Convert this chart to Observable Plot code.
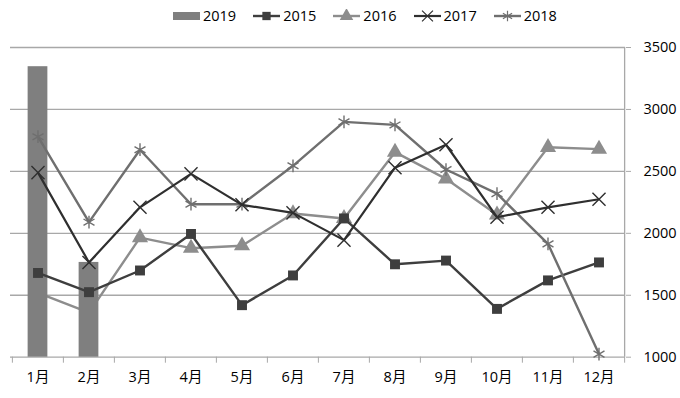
<!DOCTYPE html>
<html><head><meta charset="utf-8">
<script src="https://cdn.jsdelivr.net/npm/d3@7"></script>
<script src="https://cdn.jsdelivr.net/npm/@observablehq/plot@0.6"></script>
<style>
body{margin:0;background:#fff;font-family:"Open Sans","Noto Sans CJK SC",sans-serif;}
#legend{position:relative;height:32px;width:680px;}
#legend .items{position:absolute;left:173px;top:7px;display:flex;align-items:center;gap:17px;font-size:14.5px;line-height:18px;color:#000;}
#legend .item{display:flex;align-items:center;}
#legend .item span{margin-left:3px;}
</style></head><body>
<div id="legend"><div class="items"></div></div>
<div id="chart"></div>
<script>
const months = ["1月","2月","3月","4月","5月","6月","7月","8月","9月","10月","11月","12月"];
const v2019 = [3345, 1765];
const v2015 = [1680,1525,1700,1995,1420,1660,2120,1750,1780,1390,1620,1765];
const v2016 = [1520,1360,1965,1880,1900,2160,2120,2655,2440,2150,2695,2680];
const v2017 = [2490,1765,2210,2480,2230,2165,1945,2530,2715,2130,2210,2275];
const v2018 = [2780,2090,2675,2235,2235,2545,2900,2875,2515,2320,1915,1025];
const yTicks = [1000,1500,2000,2500,3000,3500];

const rows = (vals, series) => vals.map((v, i) => ({month: months[i], value: v, series}));
const d2019 = rows(v2019, "2019");
const d2015 = rows(v2015, "2015");
const d2016 = rows(v2016, "2016");
const d2017 = rows(v2017, "2017");
const d2018 = rows(v2018, "2018");

const styles = {
  "2015": {color: "#3e3e3e", symbol: "square", r: 5.6, width: 2.4},
  "2016": {color: "#8d8d8d", symbol: "triangle", r: 6, width: 2.4},
  "2017": {color: "#2f2f2f", symbol: "times", r: 6, width: 2.2},
  "2018": {color: "#6f6f6f", symbol: "asterisk", r: 6, width: 2.4}
};
const barColor = "#7f7f7f";
const gridColor = "#a8a8a8";

// Legend
const legendItems = document.querySelector("#legend .items");
const symMap = {square: d3.symbolSquare, triangle: d3.symbolTriangle, times: d3.symbolTimes, asterisk: d3.symbolAsterisk};
function addItem(label, svgInner) {
  const div = document.createElement("div");
  div.className = "item";
  div.innerHTML = `<svg width="27" height="14" viewBox="0 0 27 14">${svgInner}</svg><span>${label}</span>`;
  legendItems.appendChild(div);
}
addItem("2019", `<rect x="0" y="3" width="27" height="8" fill="${barColor}"/>`);
for (const k of ["2015","2016","2017","2018"]) {
  const s = styles[k];
  const filled = s.symbol === "square" || s.symbol === "triangle";
  const path = d3.symbol(symMap[s.symbol], s.r * s.r * Math.PI * 0.7)();
  addItem(k, `<line x1="0" x2="27" y1="7" y2="7" stroke="${s.color}" stroke-width="${s.width}"/>` +
    `<path transform="translate(13.5,7)" d="${path}" fill="${filled ? s.color : "none"}" stroke="${s.color}" stroke-width="${filled ? 0 : 1.2}"/>`);
}

const W = 680, H = 366, mL = 10, mR = 55, mT = 15, mB = 41.3;
const half = (W - mL - mR) / months.length / 2;

function series(data, k) {
  const s = styles[k];
  const filled = s.symbol === "square" || s.symbol === "triangle";
  return [
    Plot.line(data, {x: "month", y: "value", stroke: s.color, strokeWidth: s.width}),
    Plot.dot(data, {x: "month", y: "value", symbol: () => s.symbol, r: s.r,
      fill: filled ? s.color : "none", stroke: filled ? "none" : s.color, strokeWidth: 1.4})
  ];
}

const chart = Plot.plot({
  width: W, height: H,
  marginLeft: mL, marginRight: mR, marginTop: mT, marginBottom: mB,
  style: {fontFamily: '"Open Sans","Noto Sans CJK SC",sans-serif', fontSize: "14px", background: "white", color: "#000", overflow: "visible"},
  x: {type: "band", domain: months, padding: 0, axis: null},
  y: {domain: [1000, 3500], axis: null},
  symbol: {type: "identity"},
  marks: [
    Plot.gridY(yTicks.slice(1), {stroke: gridColor, strokeOpacity: 1, strokeWidth: 1.3}),
    Plot.ruleY([1000], {stroke: gridColor, strokeWidth: 1.3}),
    Plot.ruleX([months[months.length - 1]], {dx: half, stroke: gridColor, strokeWidth: 1.3}),
    ...series(d2016, "2016"),
    Plot.barY(d2019, {x: "month", y1: 1000, y2: "value", fill: barColor, insetLeft: half - 10, insetRight: half - 10}),
    ...series(d2015, "2015"),
    ...series(d2018, "2018"),
    ...series(d2017, "2017"),
    Plot.axisY({anchor: "right", ticks: yTicks, tickSize: 5, tickPadding: 13, tickFormat: d => String(d), stroke: gridColor, fill: "#000", fontSize: 14.5, label: null}),
    Plot.axisX({anchor: "bottom", tickSize: 6, tickFormat: () => "", dx: -half, stroke: gridColor, label: null}),
    Plot.axisX({anchor: "bottom", ticks: [months[months.length - 1]], tickSize: 6, tickFormat: () => "", dx: half, stroke: gridColor, label: null}),
    Plot.axisX({anchor: "bottom", tickSize: 0, tickPadding: 15, fill: "#000", fontSize: 14.5, label: null})
  ]
});
document.getElementById("chart").appendChild(chart);
</script>
</body></html>
